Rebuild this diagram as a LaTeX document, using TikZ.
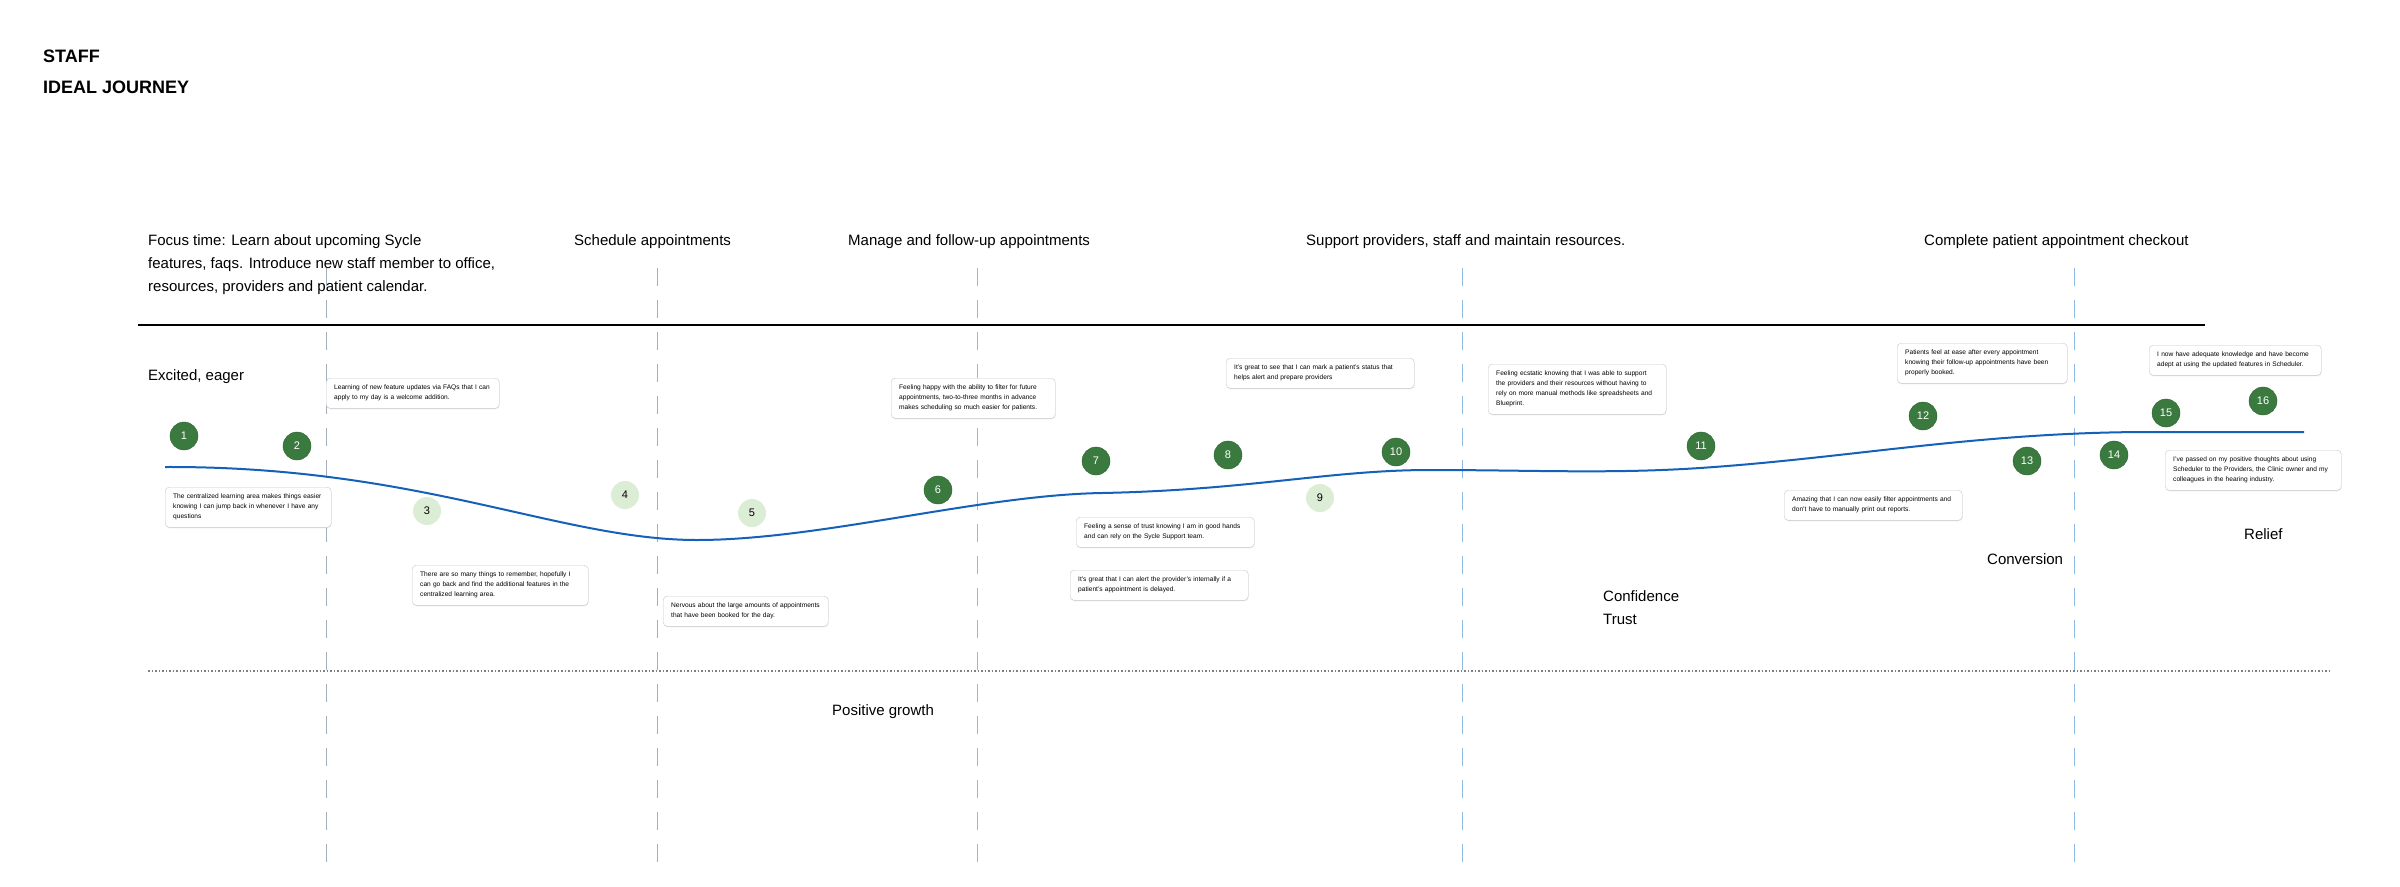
\documentclass[tikz,border=0pt]{standalone}
\usepackage{fontspec}
\setmainfont{Liberation Sans}
\usetikzlibrary{shadows}
\definecolor{dg}{HTML}{3B7A3F}
\definecolor{lg}{HTML}{DCEDD6}
\definecolor{vb}{HTML}{8DBBE6}
\definecolor{vg}{HTML}{A4AEB8}
\definecolor{cb}{HTML}{1560B8}
\begin{document}
\begin{tikzpicture}[x=1pt,y=-1pt,
  hdr/.style={anchor=north west,font=\fontsize{15}{23}\selectfont,align=left,inner sep=0},
  emo/.style={anchor=north west,font=\fontsize{15}{23}\selectfont,align=left,inner sep=0},
  dk/.style={circle,fill=dg,draw=dg!80!black,minimum size=28pt,inner sep=0,text=white,font=\fontsize{11}{11}\selectfont},
  lt/.style={circle,fill=lg,minimum size=28pt,inner sep=0,text=black,font=\fontsize{11}{11}\selectfont},
  note/.style={draw=black!22,fill=white,rounded corners=4pt,align=left,anchor=north west,inner xsep=8pt,inner ysep=7pt,font=\fontsize{6.6}{10}\selectfont,drop shadow={opacity=0.12,shadow xshift=0.5pt,shadow yshift=-1pt}},
  vline/.style={dash pattern=on 18pt off 14pt,line width=1pt}]
\useasboundingbox (0,0) rectangle (2400,886);
\fill[white] (0,0) rectangle (2400,886);
% titles
\node[anchor=north west,inner sep=0,font=\fontsize{18}{31}\selectfont\bfseries,align=left] (title) at (43,50) {STAFF\\IDEAL JOURNEY};
% headers
\node[hdr] (h1) at (148,234) {Focus time: Learn about upcoming Sycle\\features, faqs. Introduce new staff member to office,\\resources, providers and patient calendar.};
\node[hdr] (h2) at (574,234) {Schedule appointments};
\node[hdr] (h3) at (848,234) {Manage and follow-up appointments};
\node[hdr] (h4) at (1306,234) {Support providers, staff and maintain resources.};
\node[hdr] (h5) at (1924,234) {Complete patient appointment checkout};
% lines
\coordinate (tl) at (138,325); \coordinate (tr) at (2205,325);
\draw[line width=1.2pt] (tl) -- (tr);
\coordinate (dl) at (148,671); \coordinate (dr) at (2330,671);
\draw[line width=1.3pt,black!50,dash pattern=on 1.5pt off 2pt] (dl) -- (dr);
% vertical dashed
\foreach \x/\c [count=\i] in {326/vg,657/vg,977/vb,1462/vb,2074/vb}{
  \coordinate (vt\i) at (\x,268); \coordinate (vb\i) at (\x,873);
  \draw[vline,\c] (vt\i) -- (vb\i);}
% curve
\coordinate (s) at (165,467); \coordinate (m1) at (697,540); \coordinate (m2) at (1102,493);
\coordinate (m3) at (1430,470); \coordinate (m4) at (1700,468); \coordinate (m5) at (2150,432); \coordinate (e) at (2304,432);
\draw[cb,line width=2pt] (s) .. controls (420,466) and (560,540) .. (m1)
  .. controls (820,540) and (980,495) .. (m2)
  .. controls (1250,490) and (1330,470) .. (m3)
  .. controls (1530,470) and (1610,474) .. (m4)
  .. controls (1850,458) and (1980,432) .. (m5) -- (e);
% notes
\node[note,text width=157pt] (na) at (326,378) {Learning of new feature updates via FAQs that I can\\apply to my day is a welcome addition.};
\node[note,text width=150pt] (nb) at (165,487) {The centralized learning area makes things easier\\knowing I can jump back in whenever I have any\\questions};
\node[note,text width=160pt] (nc) at (412,565) {There are so many things to remember, hopefully I\\can go back and find the additional features in the\\centralized learning area.};
\node[note,text width=149pt] (nd) at (663,596) {Nervous about the large amounts of appointments\\that have been booked for the day.};
\node[note,text width=148pt] (ne) at (891,378) {Feeling happy with the ability to filter for future\\appointments, two-to-three months in advance\\makes scheduling so much easier for patients.};
\node[note,text width=172pt] (nf) at (1226,358) {It's great to see that I can mark a patient's status that\\helps alert and prepare providers};
\node[note,text width=162pt] (ng) at (1076,517) {Feeling a sense of trust knowing I am in good hands\\and can rely on the Sycle Support team.};
\node[note,text width=162pt] (nh) at (1070,570) {It's great that I can alert the provider's internally if a\\patient's appointment is delayed.};
\node[note,text width=162pt] (ni) at (1488,364) {Feeling ecstatic knowing that I was able to support\\the providers and their resources without having to\\rely on more manual methods like spreadsheets and\\Blueprint.};
\node[note,text width=154pt] (nj) at (1897,343) {Patients feel at ease after every appointment\\knowing their follow-up appointments have been\\properly booked.};
\node[note,text width=162pt] (nk) at (1784,490) {Amazing that I can now easily filter appointments and\\don't have to manually print out reports.};
\node[note,text width=156pt] (nl) at (2149,345) {I now have adequate knowledge and have become\\adept at using the updated features in Scheduler.};
\node[note,text width=160pt] (nm) at (2165,450) {I've passed on my positive thoughts about using\\Scheduler to the Providers, the Clinic owner and my\\colleagues in the hearing industry.};
% circles
\node[dk] (c1) at (184,436) {1};
\node[dk] (c2) at (297,446) {2};
\node[lt] (c3) at (427,511) {3};
\node[lt] (c4) at (625,495) {4};
\node[lt] (c5) at (752,513) {5};
\node[dk] (c6) at (938,490) {6};
\node[dk] (c7) at (1096,461) {7};
\node[dk] (c8) at (1228,455) {8};
\node[lt] (c9) at (1320,498) {9};
\node[dk] (c10) at (1396,452) {10};
\node[dk] (c11) at (1701,446) {11};
\node[dk] (c12) at (1923,416) {12};
\node[dk] (c13) at (2027,461) {13};
\node[dk] (c14) at (2114,455) {14};
\node[dk] (c15) at (2166,413) {15};
\node[dk] (c16) at (2263,401) {16};
% emotions
\node[emo] (e1) at (148,369) {Excited, eager};
\node[font=\fontsize{15}{23}\selectfont,inner sep=0] (e2) at (883,712) {Positive growth};
\node[emo] (e3) at (1603,590) {Confidence\\Trust};
\node[emo] (e4) at (1987,553) {Conversion};
\node[emo] (e5) at (2244,528) {Relief};
\end{tikzpicture}
\end{document}
